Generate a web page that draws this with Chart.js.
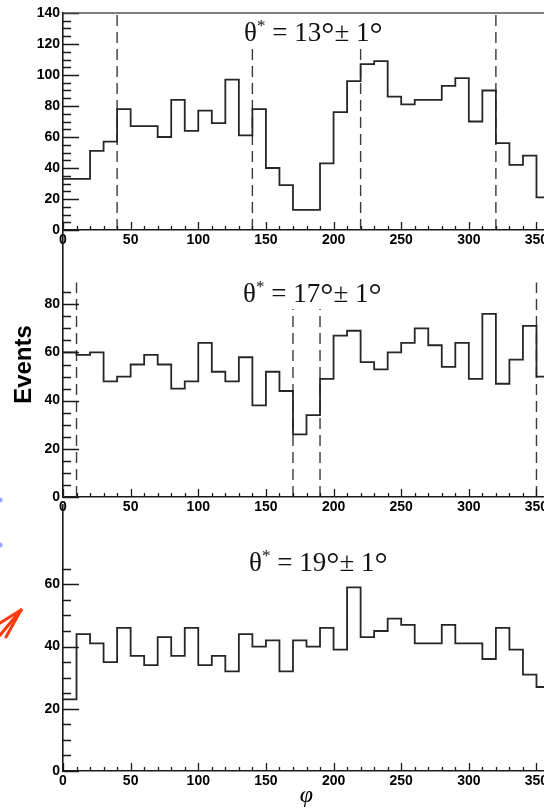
<!DOCTYPE html>
<html>
<head>
<meta charset="utf-8">
<script src="https://cdn.jsdelivr.net/npm/chart.js@4"></script>
<style>
  html, body { margin: 0; padding: 0; background: #fff; }
  body { width: 544px; height: 810px; position: relative; overflow: hidden; }
  canvas { position: absolute; left: 0; }
  .ptitle {
    position: absolute; white-space: pre; line-height: 1;
    font-family: "Liberation Serif", "Times New Roman", serif;
    font-size: 27px; color: #111;
  }
  .ptitle .star { position: relative; top: -10px; font-size: 17px; }
  .ptitle .deg { position: relative; top: 4px; font-size: 33px; line-height: 0; font-weight: 300; }
  .deco { position: absolute; left: 0; top: 0; }
</style>
</head>
<body>
<canvas id="h13" width="580" height="252" style="top:0px"></canvas>
<canvas id="h17" width="580" height="301" style="top:218px"></canvas>
<canvas id="h19" width="580" height="320" style="top:490px"></canvas>

<div class="ptitle" style="left:244px; top:19px">θ<span class="star">*</span> = 13<span class="deg">°</span>± 1<span class="deg">°</span></div>
<div class="ptitle" style="left:243px; top:280px">θ<span class="star">*</span> = 17<span class="deg">°</span>± 1<span class="deg">°</span></div>
<div class="ptitle" style="left:249px; top:549px">θ<span class="star">*</span> = 19<span class="deg">°</span>± 1<span class="deg">°</span></div>

<svg class="deco" width="60" height="810">
  <circle cx="0" cy="500" r="2.5" fill="#9aa4ff"/>
  <circle cx="0" cy="545" r="2.5" fill="#9aa4ff"/>
  <g stroke="#ff3a0a" stroke-width="3" stroke-linecap="round" fill="none">
    <line x1="21" y1="610" x2="0" y2="623"/>
    <line x1="21" y1="610" x2="6" y2="637"/>
    <line x1="21" y1="610" x2="-4" y2="640"/>
  </g>
</svg>

<script>
// phi bins, 10 degrees wide (left edges)
const phiBins = [0, 10, 20, 30, 40, 50, 60, 70, 80, 90, 100, 110, 120, 130, 140, 150, 160, 170,
                 180, 190, 200, 210, 220, 230, 240, 250, 260, 270, 280, 290, 300, 310, 320, 330, 340, 350];
const phiMax = 360;

// event counts per bin for each theta* slice
const events13 = [33, 33, 51, 57, 78, 67, 67, 60, 84, 64, 77, 69, 97, 61, 78, 40, 29, 13,
                  13, 43, 76, 96, 107, 109, 86, 81, 84, 84, 93, 98, 70, 90, 56, 42, 48, 21];
const events17 = [60, 59, 60, 48, 50, 55, 59, 55, 45, 48, 64, 52, 48, 58, 38, 52, 44, 26,
                  34, 49, 67, 69, 56, 53, 60, 64, 70, 63, 54, 64, 49, 76, 47, 57, 71, 50];
const events19 = [23, 44, 41, 35, 46, 37, 34, 43, 37, 46, 34, 37, 32, 44, 40, 42, 32, 42,
                  40, 46, 39, 59, 43, 45, 49, 47, 41, 41, 47, 41, 41, 36, 46, 39, 31, 27];

// dashed cut lines: phi position and height (events)
const cuts13 = [40, 140, 220, 320];
const cutTops13 = [140, 118, 118, 140];
const cuts17 = [10, 170, 190, 350];
const cutTops17 = [89, 78, 78, 89];

// axis tick labels
const xTicks = [0, 50, 100, 150, 200, 250, 300, 350];
const yTicks13 = [0, 20, 40, 60, 80, 100, 120, 140];
const yTicks17 = [0, 20, 40, 60, 80];
const yTicks19 = [0, 20, 40, 60];

const labelFont = { family: '"Liberation Sans", Arial, sans-serif', size: 14, weight: 'bold' };
const ink = '#1a1a1a';

// ROOT-style ticks drawn inward from the frame, plus optional top frame line
const innerTicks = {
  id: 'innerTicks',
  afterDraw(chart, args, opts) {
    const { ctx, chartArea: a, scales: { x, y } } = chart;
    ctx.save();
    ctx.strokeStyle = ink;
    ctx.lineWidth = 1.3;
    ctx.beginPath();
    for (let v = 0; v <= phiMax; v += 10) {
      const px = Math.round(x.getPixelForValue(v)) + 0.5;
      const len = v % 50 === 0 ? 8 : 4;
      ctx.moveTo(px, a.bottom);
      ctx.lineTo(px, a.bottom - len);
    }
    for (let v = 0; v <= opts.yTop; v += 5) {
      const py = Math.round(y.getPixelForValue(v)) + 0.5;
      const len = v % 20 === 0 ? 16 : 8;
      ctx.moveTo(a.left, py);
      ctx.lineTo(a.left + len, py);
    }
    ctx.stroke();
    if (opts.frameTop) {
      ctx.strokeStyle = '#555';
      ctx.lineWidth = 1.6;
      ctx.beginPath();
      ctx.moveTo(a.left, a.top);
      ctx.lineTo(a.right, a.top);
      ctx.stroke();
    }
    ctx.restore();
  }
};

function histPoints(values) {
  const pts = phiBins.map((b, i) => ({ x: b, y: values[i] }));
  pts.push({ x: phiMax, y: values[values.length - 1] });
  return pts;
}

function cutDatasets(cuts, tops) {
  return cuts.map((c, i) => ({
    data: [{ x: c, y: 0 }, { x: c, y: tops[i] }],
    borderColor: '#3a3a3a',
    borderWidth: 1.4,
    borderDash: [11, 6],
    pointRadius: 0,
    fill: false
  }));
}

function drawPanel(id, values, cuts, tops, yTicks, cfg) {
  const datasets = [{
    data: histPoints(values),
    stepped: 'before',
    borderColor: '#262626',
    borderWidth: 1.8,
    pointRadius: 0,
    fill: false
  }].concat(cutDatasets(cuts, tops));

  return new Chart(document.getElementById(id), {
    type: 'line',
    data: { datasets: datasets },
    options: {
      responsive: false,
      animation: false,
      layout: { padding: { top: cfg.padTop, right: 30, bottom: 0, left: 0 } },
      plugins: {
        legend: { display: false },
        tooltip: { enabled: false },
        innerTicks: { yTop: cfg.yTop, frameTop: cfg.frameTop }
      },
      scales: {
        x: {
          type: 'linear',
          min: 0,
          max: phiMax,
          afterBuildTicks: s => { s.ticks = xTicks.map(v => ({ value: v })); },
          afterFit: s => { s.height = cfg.xHeight; },
          grid: { display: false, drawTicks: false },
          border: { display: true, color: ink, width: 1.6 },
          ticks: { font: labelFont, color: '#000', padding: 2, maxRotation: 0, autoSkip: false },
          title: cfg.xTitle || { display: false }
        },
        y: {
          min: 0,
          max: cfg.yMax,
          afterBuildTicks: s => { s.ticks = yTicks.map(v => ({ value: v })); },
          afterFit: s => { s.width = 63; },
          grid: { display: false, drawTicks: false },
          border: { display: true, color: ink, width: 1.6 },
          ticks: { font: labelFont, color: '#000', padding: 3 },
          title: cfg.yTitle || { display: false }
        }
      }
    },
    plugins: [innerTicks]
  });
}

drawPanel('h13', events13, cuts13, cutTops13, yTicks13,
  { padTop: 13, xHeight: 22, yMax: 140, yTop: 140, frameTop: true });

drawPanel('h17', events17, cuts17, cutTops17, yTicks17,
  { padTop: 14, xHeight: 22, yMax: 110, yTop: 85, frameTop: false,
    yTitle: { display: true, text: 'Events', color: '#000', padding: { top: 10, bottom: 0 },
              font: { family: '"Liberation Sans", Arial, sans-serif', size: 24, weight: 'bold' } } });

drawPanel('h19', events19, [], [], yTicks19,
  { padTop: 15, xHeight: 39, yMax: 85.5, yTop: 65, frameTop: false,
    xTitle: { display: true, text: 'φ', color: '#000', padding: { top: 0, bottom: 0 },
              font: { family: '"Liberation Serif", "Times New Roman", serif', size: 24, style: 'italic' } } });
</script>
</body>
</html>
